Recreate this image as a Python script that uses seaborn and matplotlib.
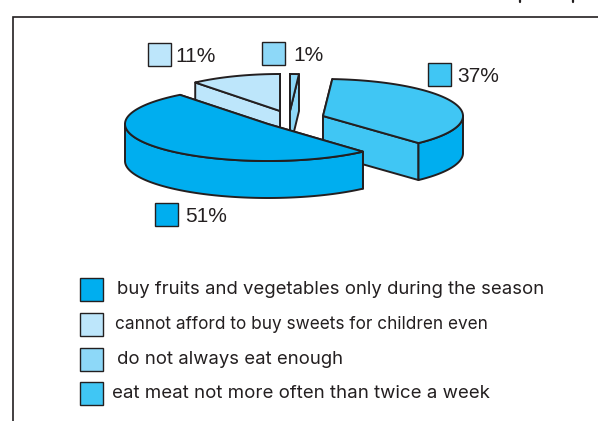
import numpy as np
import matplotlib
matplotlib.use("Agg")
import matplotlib.pyplot as plt
import seaborn as sns

sns.set_theme(style="white")
plt.rcParams['font.family'] = ['Liberation Sans', 'DejaVu Sans']

# --- data ---
slice_names = ["buy fruits and vegetables only during the season",
               "eat meat not more often than twice a week",
               "do not always eat enough",
               "cannot afford to buy sweets for children even"]
shares = [51, 37, 1, 11]
slice_colors = ["#00AEEF", "#40C6F4", "#8DD8F8", "#BDE6FB"]
legend_order = [0, 3, 2, 1]

# --- layout (pixel frame of the figure) ---
W, H = 598, 421
INK = "#231F20"
RIM = "#00AEEF"
ry, depth = 37, 37
start_angle = 128
apex = [(268, 124), (323, 116), (290, 111), (280, 111)]
radius = [143, 140, 143, 133]
nudge = [0, 1.4, 1.6, 1.6]
chips = [(155, 203, 185), (428, 63, 457), (262, 42, 293), (148, 43, 175)]
legend_y = [277.5, 312.5, 347.5, 382]
legend_x = [117, 112, 117, 115]
legend_size = [13.35, 13.45, 13.35, 12.4]

fig = plt.figure(figsize=(W / 100, H / 100), dpi=100, facecolor="white")
ax = fig.add_axes([0, 0, 1, 1])
ax.set_xlim(0, W)
ax.set_ylim(H, 0)
ax.axis("off")

LW = 1.4
def poly(xs, ys, color, z):
    ax.fill(xs, ys, facecolor=color, edgecolor=INK, linewidth=LW, joinstyle="round", zorder=z)

angle = start_angle
spans = []
for s in shares:
    spans.append((angle, angle + s * 3.6))
    angle += s * 3.6

draw_order = [3, 2, 1, 0]
for rank, i in enumerate(draw_order):
    (cx, cy), rx, col = apex[i], radius[i], slice_colors[i]
    t0, t1 = spans[i][0] + nudge[i], spans[i][1] + nudge[i]
    pt = lambda t: (cx + rx * np.cos(np.radians(t)), cy - ry * np.sin(np.radians(t)))
    z = 2 + rank * 3
    # radial side faces, further one first
    for t in sorted([t0, t1], key=lambda a: pt(a)[1]):
        x, y = pt(t)
        poly([cx, x, x, cx], [cy, y, y + depth, cy + depth], col, z)
    # outer rim: only the part that faces the viewer
    for k in (0, 360):
        a, b = max(t0, 180 + k), min(t1, 360 + k)
        if b > a:
            ts = np.linspace(a, b, 120)
            xs, ys = pt(ts)
            poly(np.r_[xs, xs[::-1]], np.r_[ys, ys[::-1] + depth], RIM, z + 1)
    # top
    ts = np.linspace(t0, t1, 200)
    xs, ys = pt(ts)
    poly(np.r_[cx, xs], np.r_[cy, ys], col, z + 2)

# share chips
SQ = 23
for i, (x, y, tx) in enumerate(chips):
    ax.fill([x, x + SQ, x + SQ, x], [y, y, y + SQ, y + SQ], facecolor=slice_colors[i],
            edgecolor=INK, linewidth=1.0, zorder=30)
    ax.text(tx, y + SQ / 2 + 2, f"{shares[i]}%", fontsize=15, color=INK, va="center", ha="left", zorder=30)

# legend
for row, i in enumerate(legend_order):
    y = legend_y[row]
    ax.fill([80, 80 + SQ, 80 + SQ, 80], [y, y, y + SQ, y + SQ], facecolor=slice_colors[i],
            edgecolor=INK, linewidth=1.0, zorder=30)
    ax.text(legend_x[i], y + SQ / 2 + 0.5, slice_names[i], fontsize=legend_size[i], color=INK, va="center", ha="left",
            family=['Inter', 'DejaVu Sans'], zorder=30)

# page frame
ax.plot([13, 13, W], [H, 17, 17], color=INK, lw=1.2, solid_joinstyle="miter", zorder=1)
ax.plot([520, 520], [0, 2], color=INK, lw=1.6, zorder=1)
ax.plot([573, 573], [0, 2], color=INK, lw=1.6, zorder=1)

fig.savefig("out.png", dpi=100)
